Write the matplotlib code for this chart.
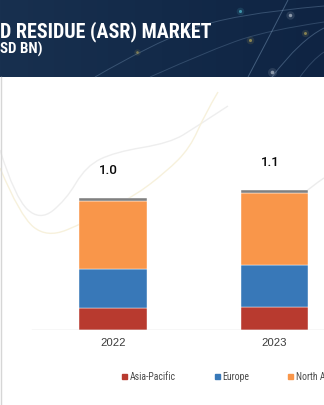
import matplotlib
matplotlib.use("Agg")
import matplotlib.pyplot as plt
import numpy as np
from matplotlib.path import Path
from matplotlib.patches import PathPatch, Rectangle

# market size by region, USD bn
years = ["2022", "2023"]
regions = ["Asia-Pacific", "Europe", "North America"]
asia_pacific = [0.172, 0.180]
europe = [0.301, 0.321]
north_america = [0.524, 0.558]
other = [0.023, 0.021]

colors = ["#b83a2f", "#3878b8", "#f9964a", "#808080"]

W, H = 324, 405
fig = plt.figure(figsize=(W / 100, H / 100), dpi=100)
fig.patch.set_facecolor("white")

# background layer in pixel coordinates (header band + faint swirls)
bg = fig.add_axes([0, 0, 1, 1], zorder=0)
bg.set_xlim(0, W)
bg.set_ylim(H, 0)
bg.axis("off")

grad = np.linspace(0, 1, 256).reshape(1, -1)
cmap = matplotlib.colors.LinearSegmentedColormap.from_list(
    "hdr", ["#18304f", "#132a49", "#0f2443"])
bg.imshow(grad, cmap=cmap, extent=(0, W, 77, 0), aspect="auto", zorder=0)


def smooth(pts):
    # quadratic b-spline through midpoints
    pts = np.asarray(pts, float)
    verts = [pts[0]]
    codes = [Path.MOVETO]
    for i in range(1, len(pts) - 1):
        mid = (pts[i] + pts[i + 1]) / 2 if i < len(pts) - 2 else pts[i + 1]
        verts += [pts[i], mid]
        codes += [Path.CURVE3, Path.CURVE3]
    return Path(verts, codes)


# thin arcs in the header
for pts, a in [
    ([(95, 77), (150, 45), (230, 14), (324, 6)], 0.3),
    ([(150, 77), (215, 48), (270, 30), (324, 22)], 0.25),
    ([(248, 77), (265, 45), (288, 0)], 0.4),
    ([(272, 77), (300, 40), (324, 28)], 0.35),
    ([(300, 77), (312, 60), (324, 52)], 0.25),
]:
    bg.add_patch(PathPatch(smooth(pts), fc="none", ec="#8fb0d0", lw=0.7, alpha=a, zorder=1))

for (x, y), c, s in [((240, 11), "#5fd8e8", 10), ((137, 52), "#c8b45a", 7),
                     ((250, 40), "#d8c25c", 10), ((305, 33), "#d8c25c", 9),
                     ((290, 15), "#dfe6ee", 12), ((272, 72), "#dfe6ee", 14)]:
    bg.scatter([x], [y], s=s * 3, color=c, alpha=0.12, lw=0, zorder=2)
    bg.scatter([x], [y], s=s * 0.5, color=c, alpha=0.55, lw=0, zorder=3)

# faint decorative curves behind the bars
bg.add_patch(PathPatch(smooth([(0, 150), (15, 198), (40, 221), (66, 200), (86, 166),
                               (115, 152), (170, 143), (196, 127), (228, 106)]),
                       fc="none", ec="#eeeeee", lw=1.0, zorder=1))
bg.add_patch(PathPatch(smooth([(0, 168), (20, 216), (47, 238), (86, 222), (133, 197),
                               (166, 172), (190, 148), (205, 114), (218, 92)]),
                       fc="none", ec="#f7f1dc", lw=1.0, zorder=1))
bg.add_patch(PathPatch(smooth([(298, 198), (312, 186), (324, 178)]),
                       fc="none", ec="#ececec", lw=1.0, zorder=1))
bg.plot([0.5, 0.5], [77, H], color="#d6d6d6", lw=1, zorder=1)

# header text
title_font = ["Roboto Condensed", "Liberation Sans", "DejaVu Sans"]
bg.text(0, 37, "D RESIDUE (ASR) MARKET", color="white", fontsize=14.4,
        fontweight="bold", family=title_font, va="baseline", ha="left", zorder=4)
bg.text(0, 54, "SD BN)", color="white", fontsize=10.8,
        fontweight="bold", family=title_font, va="baseline", ha="left", zorder=4)

# stacked bars
px_unit = 129.7
ax = fig.add_axes([0, 75 / H, 1, 250 / H], zorder=2)
ax.patch.set_alpha(0)
ax.set_xlim(-113 / 161.5, (W - 113) / 161.5)
ax.set_ylim(0, 250 / px_unit)

x = np.arange(len(years))
bottom = np.zeros(len(years))
for vals, c in zip([asia_pacific, europe, north_america, other], colors):
    ax.bar(x, vals, 0.421, bottom=bottom, color=c, edgecolor="white", linewidth=0.3)
    bottom += np.array(vals)

for xi, tot in zip(x, bottom):
    ax.annotate(f"{tot:.1f}", (xi, tot), xytext=(-3, 19.5), textcoords="offset points",
                ha="center", va="center", fontsize=9.6, fontweight="medium", color="#0a0a0a",
                family=["Roboto", "Liberation Sans", "DejaVu Sans"])

ax.axhline(0, xmin=32 / W, xmax=1, color="#dadada", lw=1, zorder=1)
for s in ax.spines.values():
    s.set_visible(False)
ax.set_yticks([])
ax.set_xticks(x, years)
ax.tick_params(axis="x", length=0, pad=5.5, labelsize=8.2, labelcolor="#3c3c3c")
for t in ax.get_xticklabels():
    t.set_family(["Liberation Sans", "DejaVu Sans"])

fig.legend([Rectangle((0, 0), 1, 1, color=c) for c in colors[:3]], regions,
           loc="center left", bbox_to_anchor=(122 / W, 1 - 377 / H), ncol=3,
           frameon=False, handlelength=0.5, handleheight=0.5,
           handletextpad=0.3, columnspacing=4.0, borderpad=0, borderaxespad=0,
           labelcolor="#4a4a4a",
           prop={"family": ["Roboto Condensed", "Liberation Sans", "DejaVu Sans"], "size": 7})

fig.savefig("out.png", dpi=100)
